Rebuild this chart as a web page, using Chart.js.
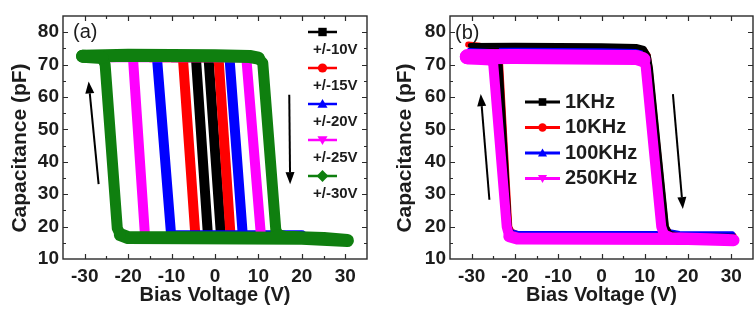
<!DOCTYPE html>
<html>
<head>
<meta charset="utf-8">
<script src="https://cdn.jsdelivr.net/npm/chart.js@4.4.0/dist/chart.umd.min.js"></script>
<style>
  html, body { margin: 0; padding: 0; background: #fff; }
  #wrap { position: relative; width: 755px; height: 330px; overflow: hidden; }
  .panel { position: absolute; top: 0; height: 330px; }
</style>
</head>
<body>
<div id="wrap">
  <div class="panel" style="left:0;width:378px"><canvas id="chartA" width="378" height="330"></canvas></div>
  <div class="panel" style="left:378px;width:377px"><canvas id="chartB" width="377" height="330"></canvas></div>
</div>
<script>
// ---------- axis ticks ----------
const xTickValues = [-30, -20, -10, 0, 10, 20, 30];
const yTickValues = [10, 20, 30, 40, 50, 60, 70, 80];

// ---------- panel (a): C-V loops for different sweep ranges ----------
const sweepLabels = ['+/-10V', '+/-15V', '+/-20V', '+/-25V', '+/-30V'];
const sweepColors = ['#000000', '#ff0000', '#0000ff', '#ff00ff', '#0f7f0f'];
const sweepMarkers = ['square', 'circle', 'triangleUp', 'triangleDown', 'diamond'];

const v10V = [-10, -1.5, 1.4, 10, -1.6, -4.4, -10];
const c10V = [72.3, 72.3, 16.8, 16.8, 16.8, 72.3, 72.3];
const v15V = [-15, 0.8, 3.6, 15, -4.5, -7.4, -15];
const c15V = [72.3, 72.3, 16.8, 16.8, 16.8, 72.3, 72.3];
const v20V = [-20, 3.3, 6.4, 20, -10.1, -13.4, -20];
const c20V = [72.8, 72.8, 17.3, 17.3, 17.3, 72.8, 72.8];
const v25V = [-25, 7.2, 10.6, 25, -16.1, -18.9, -25];
const c25V = [72.3, 72.3, 16.8, 16.8, 16.8, 72.3, 72.3];
const v30V = [-30.5, -20, -10, 0, 8, 10, 11, 14, 14.6, 16, 25, 30.5, 20, -20, -21.8, -22.5, -25.3, -26, -30.5];
const c30V = [72.6, 72.9, 72.8, 72.7, 72.5, 72, 70.5, 19, 17.2, 16.7, 16.3, 15.7, 16.4, 16.6, 17.5, 19.5, 70, 72.2, 72.6];

// ---------- panel (b): C-V loops at different frequencies ----------
const freqLabels = ['1KHz', '10KHz', '100KHz', '250KHz'];
const freqColors = ['#000000', '#ff0000', '#0000ff', '#ff00ff'];
const freqMarkers = ['square', 'circle', 'triangleUp', 'triangleDown'];

const v1k = [-30.3, -20, 0, 8, 9.8, 10.8, 11.3, 15.0, 15.8, 18, 30.5, 18, -19, -20.8, -21.3, -23.4, -23.8, -24.5, -30.3];
const c1k = [75.9, 76.0, 75.8, 75.6, 75.0, 72.8, 69, 20, 18.0, 17.2, 17.0, 17.0, 17.0, 18.0, 20, 70, 73.5, 75.5, 75.9];
const v10k = [-30.8, -28, -20, 0, 8, 9.8, 10.7, 11.1, 14.8, 15.6, 18, 30.5, 18, -19, -20.8, -21.3, -23.4, -23.8, -24.5, -30.8];
const c10k = [76.2, 75.8, 75.6, 75.4, 75.2, 74.6, 72.8, 69, 20, 18.2, 17.5, 17.2, 17.4, 17.4, 18.5, 20, 70, 73.5, 75.2, 76.2];
const v100k = [-30.5, -20, 0, 8, 9.6, 10.5, 11.0, 14.7, 15.5, 18, 30.3, 31, 30.3, 18, -19.3, -21, -21.6, -23.8, -24.3, -25, -30.5];
const c100k = [74.4, 74.7, 74.6, 74.4, 73.6, 71.8, 69, 20, 18.5, 17.9, 17.8, 15.2, 17.8, 17.9, 17.9, 18.5, 20, 70, 72.5, 74.3, 74.4];
const v250k = [-31, -20, 0, 8, 9.6, 10.2, 13.8, 14.5, 16, 25, 30.5, 20, -19.5, -21.3, -21.9, -25, -25.6, -31];
const c250k = [72.4, 72.5, 72.3, 72.2, 71.5, 69.5, 20, 17.2, 16.4, 16.1, 15.8, 16.2, 16.3, 17, 20, 70, 72, 72.4];

// ---------- arrows (sweep direction) ----------
const arrowsA = [
  { v: [-26.8, -29.1], c: [33.1, 64.8] },
  { v: [17.1, 17.3], c: [60.7, 33.1] }
];
const arrowsB = [
  { v: [-25.9, -27.9], c: [28.3, 60.9] },
  { v: [16.5, 18.8], c: [60.9, 25.4] }
];

const FONT = "'Liberation Sans', Arial, Helvetica, sans-serif";
const TEXT = '#1c1c1c';

const toPoints = (xs, ys) => xs.map((x, i) => ({ x: x, y: ys[i] }));

// thick traces: vertical switching branches and flat plateaus get their own widths
function bandWidth(vertical, topFlat, bottomFlat) {
  return ctx => {
    const dx = Math.abs(ctx.p1.x - ctx.p0.x);
    const dy = Math.abs(ctx.p1.y - ctx.p0.y);
    if (dy > dx) return vertical;
    return ctx.p0.parsed.y > 45 ? topFlat : bottomFlat;
  };
}

function loopDataset(label, xs, ys, color, order, vw, tw, bw) {
  return {
    label: label,
    data: toPoints(xs, ys),
    showLine: true,
    borderColor: color,
    backgroundColor: color,
    borderWidth: vw,
    pointRadius: 0,
    pointHoverRadius: 0,
    tension: 0,
    borderJoinStyle: 'round',
    borderCapStyle: 'round',
    order: order,
    segment: { borderWidth: bandWidth(vw, tw, bw) }
  };
}

// draws the closed frame with inward major/minor ticks
const frameTicks = {
  id: 'frameTicks',
  afterDatasetsDraw(chart) {
    const { ctx, chartArea: a, scales: { x, y } } = chart;
    ctx.save();
    ctx.strokeStyle = '#2a2a2a';
    ctx.lineWidth = 1.4;
    ctx.strokeRect(a.left, a.top, a.right - a.left, a.bottom - a.top);
    ctx.lineWidth = 1.2;
    ctx.beginPath();
    for (let v = x.min + 5; v < x.max; v += 5) {
      const px = Math.round(x.getPixelForValue(v)) + 0.5;
      const len = (v % 10 === 0) ? 5 : 3;
      ctx.moveTo(px, a.bottom); ctx.lineTo(px, a.bottom - len);
      ctx.moveTo(px, a.top); ctx.lineTo(px, a.top + len);
    }
    for (let v = y.min + 5; v < y.max; v += 5) {
      const py = Math.round(y.getPixelForValue(v)) + 0.5;
      const len = (v % 10 === 0) ? 5 : 3;
      ctx.moveTo(a.left, py); ctx.lineTo(a.left + len, py);
      ctx.moveTo(a.right, py); ctx.lineTo(a.right - len, py);
    }
    ctx.stroke();
    ctx.restore();
  }
};

function drawMarker(ctx, shape, cx, cy, s) {
  ctx.beginPath();
  if (shape === 'square') {
    ctx.rect(cx - s, cy - s, 2 * s, 2 * s);
  } else if (shape === 'circle') {
    ctx.arc(cx, cy, s * 1.1, 0, Math.PI * 2);
  } else if (shape === 'triangleUp') {
    ctx.moveTo(cx, cy - s * 1.2); ctx.lineTo(cx + s * 1.2, cy + s * 0.9); ctx.lineTo(cx - s * 1.2, cy + s * 0.9);
  } else if (shape === 'triangleDown') {
    ctx.moveTo(cx, cy + s * 1.2); ctx.lineTo(cx + s * 1.2, cy - s * 0.9); ctx.lineTo(cx - s * 1.2, cy - s * 0.9);
  } else {
    ctx.moveTo(cx, cy - s * 1.4); ctx.lineTo(cx + s * 1.4, cy); ctx.lineTo(cx, cy + s * 1.4); ctx.lineTo(cx - s * 1.4, cy);
  }
  ctx.closePath();
  ctx.fill();
}

// legend, panel tag and sweep-direction arrows
const annotations = {
  id: 'annotations',
  afterDraw(chart, args, o) {
    const { ctx, scales: { x, y } } = chart;
    ctx.save();
    // arrows
    ctx.fillStyle = '#000';
    ctx.strokeStyle = '#000';
    ctx.lineWidth = 2;
    o.arrows.forEach(ar => {
      const x0 = x.getPixelForValue(ar.v[0]), y0 = y.getPixelForValue(ar.c[0]);
      const x1 = x.getPixelForValue(ar.v[1]), y1 = y.getPixelForValue(ar.c[1]);
      const ang = Math.atan2(y1 - y0, x1 - x0);
      const hl = 12, hw = 4.5;
      const bx = x1 - hl * Math.cos(ang), by = y1 - hl * Math.sin(ang);
      ctx.beginPath(); ctx.moveTo(x0, y0); ctx.lineTo(bx, by); ctx.stroke();
      ctx.beginPath();
      ctx.moveTo(x1, y1);
      ctx.lineTo(bx + hw * Math.sin(ang), by - hw * Math.cos(ang));
      ctx.lineTo(bx - hw * Math.sin(ang), by + hw * Math.cos(ang));
      ctx.closePath(); ctx.fill();
    });
    // panel tag
    ctx.fillStyle = TEXT;
    ctx.font = '20px ' + FONT;
    ctx.textAlign = 'left';
    ctx.textBaseline = 'middle';
    ctx.fillText(o.tag.text, o.tag.x, o.tag.y);
    // legend
    const L = o.legend;
    ctx.font = 'bold ' + L.fontSize + 'px ' + FONT;
    chart.data.datasets.forEach((ds, i) => {
      const ly = L.y0 + i * L.step;
      ctx.strokeStyle = ds.borderColor;
      ctx.fillStyle = ds.borderColor;
      ctx.lineWidth = L.lineWidth;
      ctx.beginPath(); ctx.moveTo(L.x0, ly); ctx.lineTo(L.x1, ly); ctx.stroke();
      drawMarker(ctx, L.markers[i], (L.x0 + L.x1) / 2, ly, L.markerSize);
      ctx.fillStyle = TEXT;
      ctx.fillText(ds.label, L.textX, ly + L.textDy);
    });
    ctx.restore();
  }
};

function makeScales(yWidth, yTitlePad) {
  return {
    x: {
      type: 'linear', min: -35, max: 35,
      grid: { display: false, drawTicks: false, tickLength: 0 }, border: { display: false },
      afterBuildTicks: s => { s.ticks = xTickValues.map(v => ({ value: v })); },
      afterFit: s => { s.height = 71; },
      ticks: { padding: 6, color: TEXT, autoSkip: false, maxRotation: 0,
               font: { family: FONT, size: 19, weight: 'bold' } },
      title: { display: true, text: 'Bias Voltage (V)', color: TEXT,
               font: { family: FONT, size: 20, weight: 'bold' }, padding: { top: 0, bottom: 23 } }
    },
    y: {
      type: 'linear', min: 10, max: 85,
      grid: { display: false, drawTicks: false, tickLength: 0 }, border: { display: false },
      afterBuildTicks: s => { s.ticks = yTickValues.map(v => ({ value: v })); },
      afterFit: s => { s.width = yWidth; },
      ticks: { padding: 4, color: TEXT, autoSkip: false,
               font: { family: FONT, size: 19, weight: 'bold' } },
      title: { display: true, text: 'Capacitance (pF)\u2002\u2002', color: TEXT,
               font: { family: FONT, size: 21, weight: 'bold' }, padding: { top: yTitlePad, bottom: 0 } }
    }
  };
}

const common = {
  responsive: false,
  animation: false,
  events: [],
  plugins: { legend: { display: false }, tooltip: { enabled: false } }
};

new Chart(document.getElementById('chartA'), {
  type: 'scatter',
  data: {
    datasets: [
      loopDataset(sweepLabels[0], v10V, c10V, sweepColors[0], 5, 10, 10, 10),
      loopDataset(sweepLabels[1], v15V, c15V, sweepColors[1], 4, 10, 10, 10),
      loopDataset(sweepLabels[2], v20V, c20V, sweepColors[2], 3, 10, 10, 10),
      loopDataset(sweepLabels[3], v25V, c25V, sweepColors[3], 2, 10, 10, 10),
      loopDataset(sweepLabels[4], v30V, c30V, sweepColors[4], 1, 11, 13, 13)
    ]
  },
  options: Object.assign({}, common, {
    layout: { padding: { left: 0, top: 16, right: 11, bottom: 0 } },
    scales: makeScales(63, 8),
    plugins: Object.assign({}, common.plugins, {
      annotations: {
        arrows: arrowsA,
        tag: { text: '(a)', x: 73, y: 32 },
        legend: { x0: 308, x1: 337, y0: 32, step: 36, textX: 313, textDy: 18,
                  fontSize: 15, lineWidth: 2.5, markerSize: 4.2, markers: sweepMarkers }
      }
    })
  }),
  plugins: [frameTicks, annotations]
});

new Chart(document.getElementById('chartB'), {
  type: 'scatter',
  data: {
    datasets: [
      loopDataset(freqLabels[0], v1k, c1k, freqColors[0], 2, 5, 5, 5),
      loopDataset(freqLabels[1], v10k, c10k, freqColors[1], 4, 6, 6, 6),
      loopDataset(freqLabels[2], v100k, c100k, freqColors[2], 3, 5, 5, 5),
      loopDataset(freqLabels[3], v250k, c250k, freqColors[3], 1, 10, 15, 12)
    ]
  },
  options: Object.assign({}, common, {
    layout: { padding: { left: 0, top: 16, right: 2, bottom: 0 } },
    scales: makeScales(72, 15),
    plugins: Object.assign({}, common.plugins, {
      annotations: {
        arrows: arrowsB,
        tag: { text: '(b)', x: 77, y: 33 },
        legend: { x0: 147, x1: 182, y0: 102, step: 25.5, textX: 187, textDy: 0,
                  fontSize: 20, lineWidth: 3, markerSize: 3.8, markers: freqMarkers }
      }
    })
  }),
  plugins: [frameTicks, annotations]
});
</script>
</body>
</html>
